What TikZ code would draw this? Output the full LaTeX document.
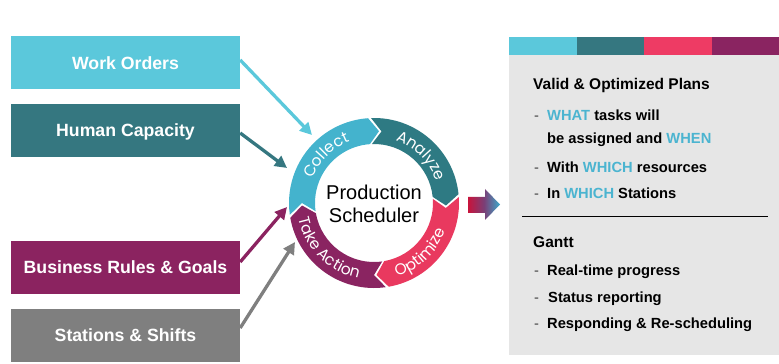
\documentclass[tikz,border=0pt]{standalone}
\usepackage{fontspec}
\setmainfont{Liberation Sans}
\newfontfamily\ringfam{Poppins}
\usetikzlibrary{arrows.meta,decorations.text}
\definecolor{cwo}{HTML}{5BC8DB}
\definecolor{chc}{HTML}{357780}
\definecolor{cbr}{HTML}{8B2360}
\definecolor{css}{HTML}{7F7F7F}
\definecolor{ccol}{HTML}{44B3CD}
\definecolor{cana}{HTML}{2E7A83}
\definecolor{copt}{HTML}{E9395F}
\definecolor{ctak}{HTML}{8A2461}
\definecolor{cpink}{HTML}{EE3B64}
\definecolor{cpanel}{HTML}{E6E6E6}
\definecolor{chl}{HTML}{4BB4D0}
\definecolor{cred}{HTML}{C8143C}
\definecolor{cblu}{HTML}{3CAACB}
\newcommand\ringfont{\ringfam\fontsize{15.5}{18}\selectfont}
\newcommand\ringseg[3]{%
  \fill[#1, shift={(374,161)}] (#2:85) arc[start angle=#2, end angle=#3, radius=85]
    -- ({#3-8}:72) -- (#3:59) arc[start angle=#3, end angle=#2, radius=59]
    -- ({#2-8}:72) -- cycle;}
\newcommand\ringtext[4]{%
  \path[shift={(374,161)}, decorate, decoration={text along path, text={|\ringfont|#1}, text align=center, text color=white}]
    (#2:#4) arc[start angle=#2, end angle=#3, radius=#4];}
\begin{document}
\begin{tikzpicture}[x=1pt,y=1pt,
  inbox/.style={rectangle, minimum width=229pt, minimum height=53pt, inner sep=0pt, text=white,
    text height=12.7pt, text depth=0pt, font=\fontsize{17.7}{20}\selectfont\bfseries},
  inarrow/.style={line width=3.3pt, -{Triangle[length=12pt,width=12pt]}},
  ptitle/.style={anchor=base west, inner sep=0pt, font=\fontsize{15.5}{18}\selectfont\bfseries},
  pitem/.style={anchor=base west, inner sep=0pt, font=\fontsize{14.7}{17}\selectfont\bfseries},
  pdash/.style={anchor=base west, inner sep=0pt, text=black!75, font=\fontsize{14.7}{17}\selectfont}]
\useasboundingbox (0,0) rectangle (779,364);
% input boxes
\node[inbox, fill=cwo] (wo) at (125.5,301) {Work Orders};
\node[inbox, fill=chc] (hc) at (125.5,233.5) {Human Capacity};
\node[inbox, fill=cbr] (br) at (125.5,96.5) {Business Rules \& Goals};
\node[inbox, fill=css] (ss) at (125.5,28.5) {Stations \& Shifts};
% ring
\ringseg{ccol}{188}{94}
\ringseg{cana}{92}{6}
\ringseg{copt}{4}{-80}
\ringseg{ctak}{-82}{-170}
\ringtext{Collect}{175}{95}{66}
\ringtext{Analyze}{85}{5}{66}
\ringtext{Optimize}{-87}{-7}{77}
\ringtext{Take Action}{185}{265}{77}
\node[font=\fontsize{20}{23}\selectfont, align=center, inner sep=0pt] (ps) at (374,160) {Production\\Scheduler};
% input arrows
\coordinate (t1) at (312,229);
\coordinate (t2) at (287,196);
\coordinate (t3) at (287,157);
\coordinate (t4) at (295,122);
\draw[inarrow, cwo] ([yshift=3pt]wo.east) -- (t1);
\draw[inarrow, chc] ([yshift=-2.5pt]hc.east) -- (t2);
\draw[inarrow, cbr] ([yshift=5.5pt]br.east) -- (t3);
\draw[inarrow, css] ([yshift=7.5pt]ss.east) -- (t4);
% output arrow
\shade[left color=cred, right color=cblu, middle color=ctak!80!cblu]
  (468,167) -- (485,167) -- (485,175) -- (500,159.5) -- (485,144) -- (485,151) -- (468,151) -- cycle;
% right panel
\fill[cpanel] (509,9) rectangle (779,309);
\fill[cwo] (509,309) rectangle (577,327);
\fill[chc] (577,309) rectangle (644,327);
\fill[cpink] (644,309) rectangle (712,327);
\fill[ctak] (712,309) rectangle (779,327);
\node[ptitle] (vt) at (533,274) {Valid \& Optimized Plans};
\node[pdash] (d1) at (534,243.3) {-};
\node[pitem] (i1) at (547,243.3) {\textcolor{chl}{WHAT} tasks will};
\node[pitem] (i1b) at (547,220) {be assigned and \textcolor{chl}{WHEN}};
\node[pdash] (d2) at (534,191.7) {-};
\node[pitem] (i2) at (547,191.7) {With \textcolor{chl}{WHICH} resources};
\node[pdash] (d3) at (534,165.7) {-};
\node[pitem] (i3) at (547,165.7) {In \textcolor{chl}{WHICH} Stations};
\draw[line width=0.8pt] (522,147.3) -- (768,147.3);
\node[ptitle] (gt) at (533,116.3) {Gantt};
\node[pdash] (d4) at (534,88.3) {-};
\node[pitem] (g1) at (547,88.3) {Real-time progress};
\node[pdash] (d5) at (534,61.7) {-};
\node[pitem] (g2) at (548,61.7) {Status reporting};
\node[pdash] (d6) at (534,35.7) {-};
\node[pitem] (g3) at (547,35.7) {Responding \& Re-scheduling};
\end{tikzpicture}
\end{document}
